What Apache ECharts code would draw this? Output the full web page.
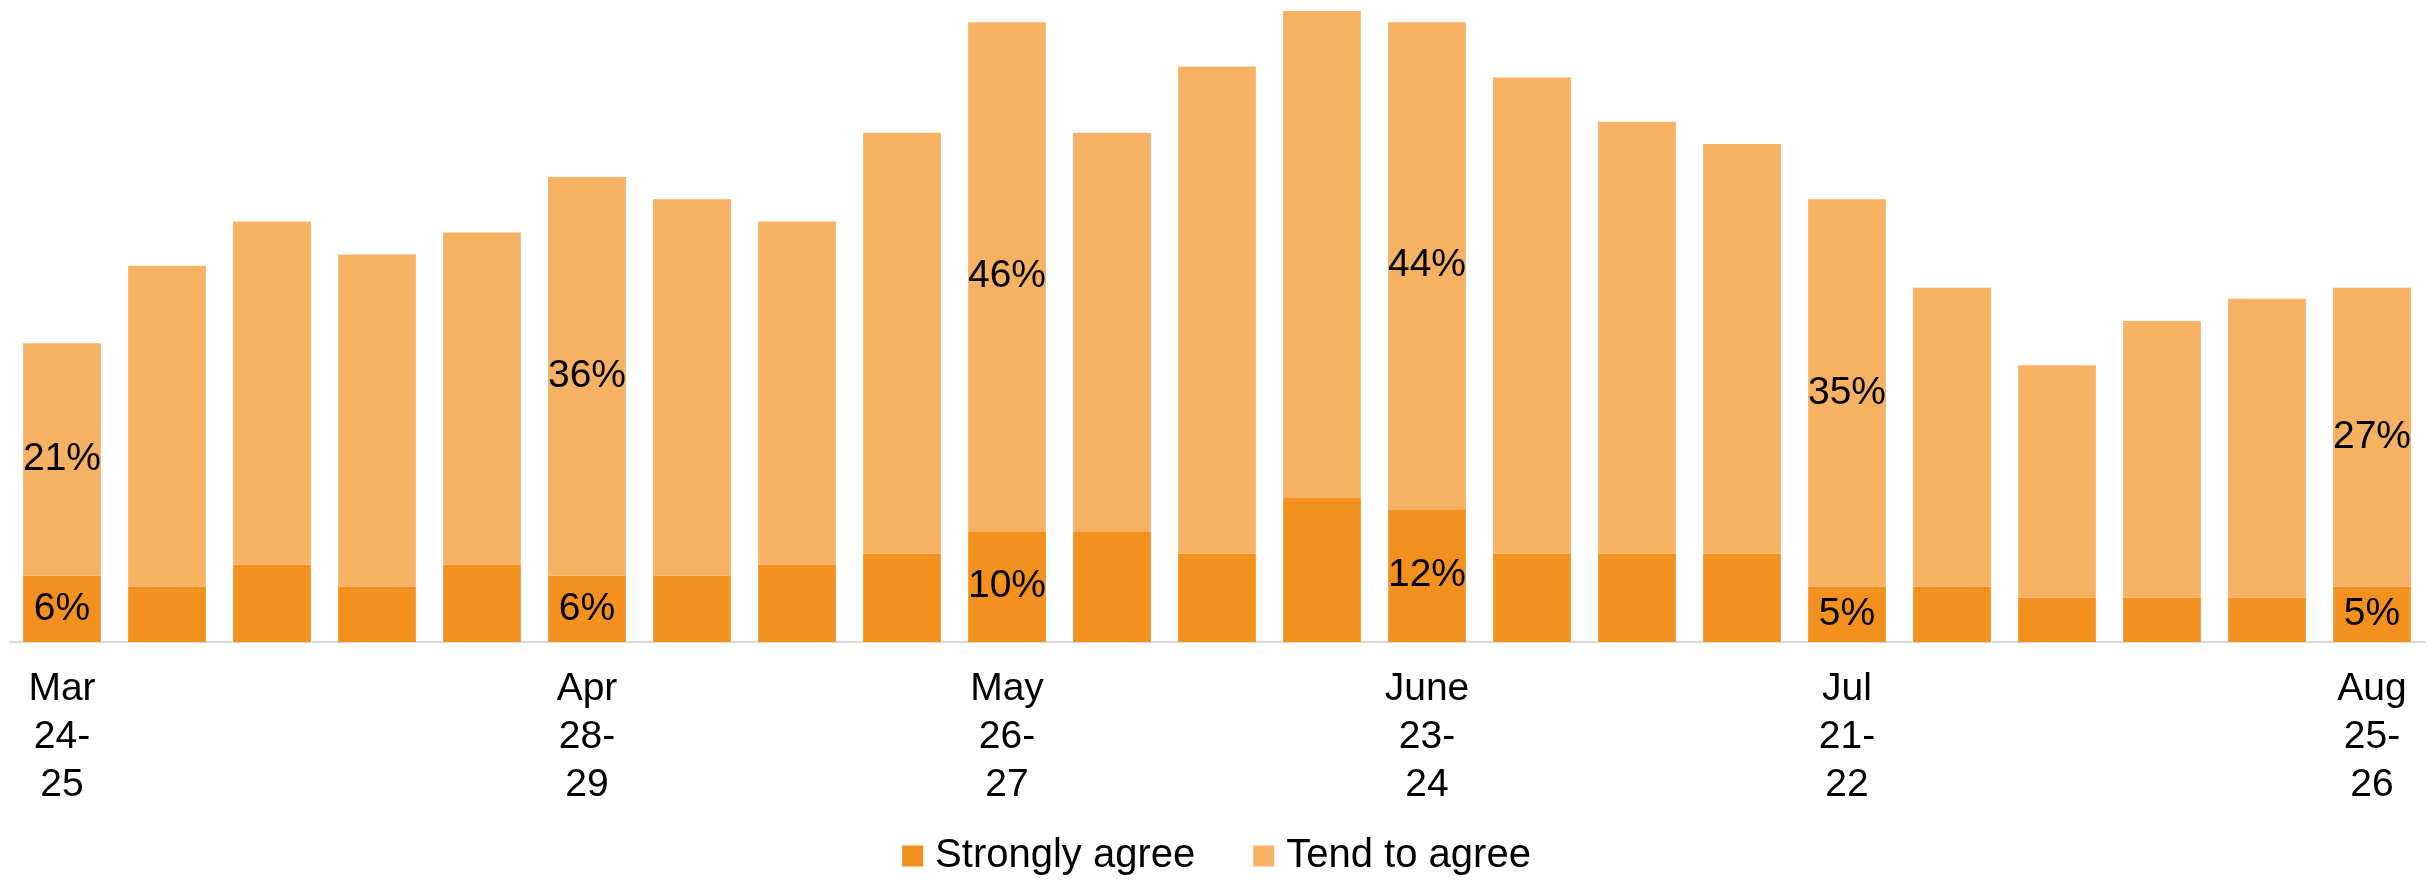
<!DOCTYPE html>
<html>
<head>
<meta charset="utf-8">
<script src="https://cdn.jsdelivr.net/npm/echarts@6/dist/echarts.min.js"></script>
<style>
	html, body { margin: 0; padding: 0; background: #fff; }
	#chart { width: 2433px; height: 883px; }
</style>
</head>
<body>
<div id="chart"></div>
<script>
	// weekly polls, Mar 24-25 to Aug 25-26
	const weeks = [
		'Mar\n24-\n25', 'Mar 31-\nApr 1', 'Apr\n7-\n8', 'Apr\n14-\n15', 'Apr\n21-\n22',
		'Apr\n28-\n29', 'May\n5-\n6', 'May\n12-\n13', 'May\n19-\n20', 'May\n26-\n27',
		'June\n2-\n3', 'June\n9-\n10', 'June\n16-\n17', 'June\n23-\n24', 'June 30-\nJul 1',
		'Jul\n7-\n8', 'Jul\n14-\n15', 'Jul\n21-\n22', 'Jul\n28-\n29', 'Aug\n4-\n5',
		'Aug\n11-\n12', 'Aug\n18-\n19', 'Aug\n25-\n26'
	]
	const stronglyAgree = [6, 5, 7, 5, 7, 6, 6, 7, 8, 10, 10, 8, 13, 12, 8, 8, 8, 5, 5, 4, 4, 4, 5]
	const tendToAgree = [21, 29, 31, 30, 30, 36, 34, 31, 38, 46, 36, 44, 44, 44, 43, 39, 37, 35, 27, 21, 25, 27, 27]
	// weeks that get an axis label and value labels
	const labelledWeeks = [0, 5, 9, 13, 17, 22]

	const font = "'Liberation Sans', Arial, sans-serif"

	const valueLabel = {
		show: true,
		position: 'inside',
		color: '#000',
		fontSize: 39,
		fontFamily: font,
		formatter: (p) => labelledWeeks.indexOf(p.dataIndex) >= 0 ? p.value + '%' : ''
	}

	const chart = echarts.init(document.getElementById('chart'))
	chart.setOption({
		animation: false,
		grid: { left: 9.5, right: 8.5, top: 0, bottom: 241 },
		legend: {
			top: 836,
			left: 'center',
			padding: 0,
			itemWidth: 21,
			itemHeight: 21,
			itemGap: 58,
			icon: 'rect',
			textStyle: { fontSize: 40, fontFamily: font, color: '#000', padding: [0, 0, 0, 7] },
			data: ['Strongly agree', 'Tend to agree']
		},
		xAxis: {
			type: 'category',
			data: weeks,
			axisLine: { lineStyle: { color: '#d9d9d9', width: 2 } },
			axisTick: { show: false },
			axisLabel: {
				interval: (i) => labelledWeeks.indexOf(i) >= 0,
				color: '#000',
				fontSize: 39,
				lineHeight: 48,
				fontFamily: font,
				margin: 23
			}
		},
		yAxis: {
			type: 'value',
			min: 0,
			max: 58,
			show: false,
			splitLine: { show: false }
		},
		series: [
			{
				name: 'Strongly agree',
				type: 'bar',
				stack: 'agree',
				barCategoryGap: '26%',
				data: stronglyAgree,
				itemStyle: { color: '#F4911E' },
				label: valueLabel
			},
			{
				name: 'Tend to agree',
				type: 'bar',
				stack: 'agree',
				data: tendToAgree,
				itemStyle: { color: '#F7B163' },
				label: valueLabel
			}
		]
	})
</script>
</body>
</html>
